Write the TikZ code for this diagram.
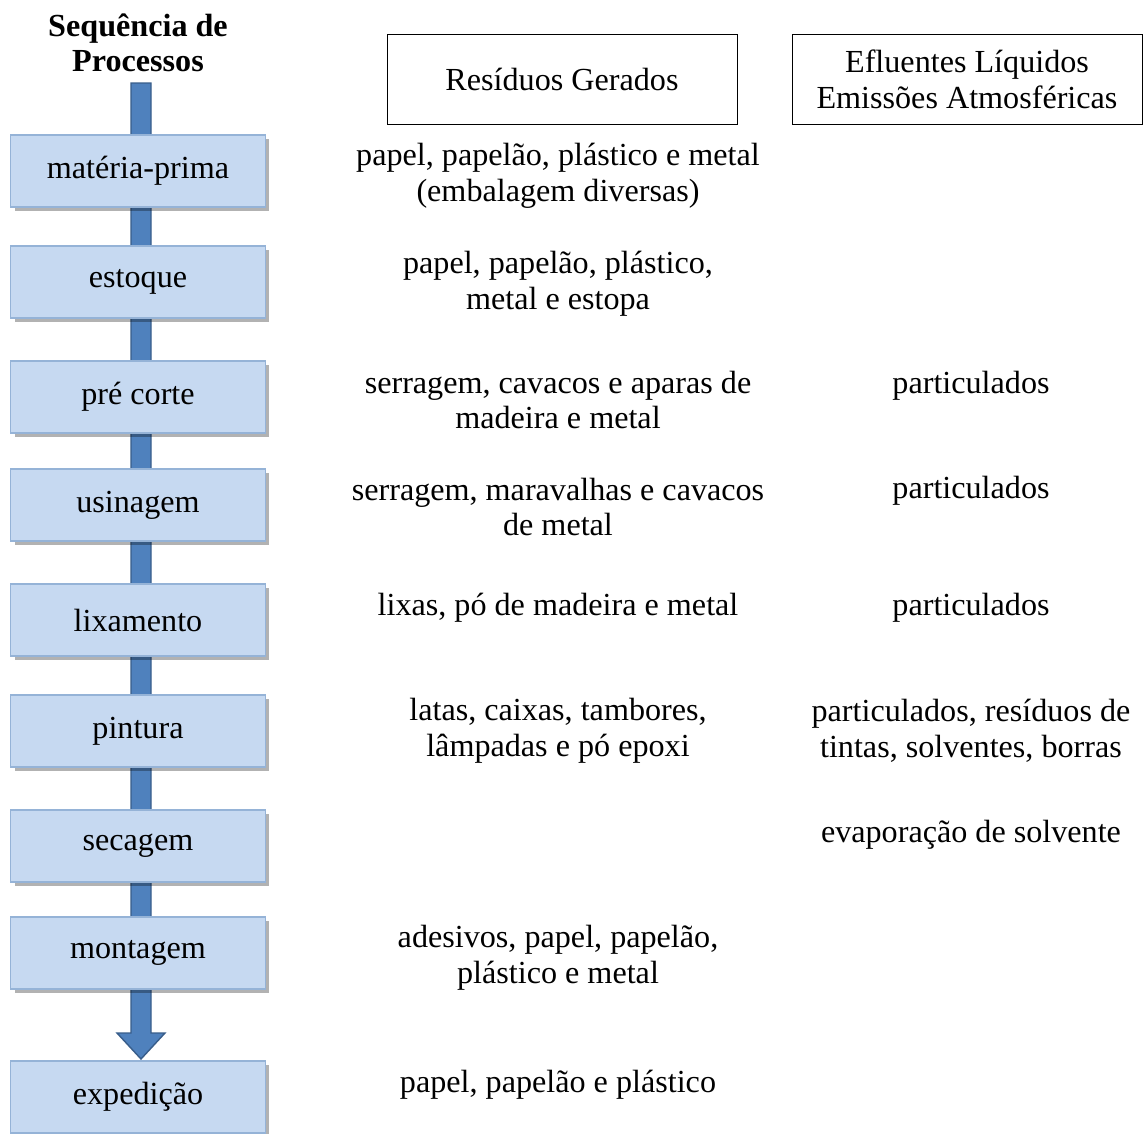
\documentclass[tikz,border=0pt]{standalone}
\usepackage{fontspec}
\setmainfont{Liberation Serif}
\usetikzlibrary{calc,shadows}

\definecolor{boxfill}{RGB}{198,217,241}
\definecolor{boxline}{RGB}{149,179,215}
\definecolor{arrowfill}{RGB}{79,129,189}
\definecolor{arrowline}{RGB}{56,93,138}

\tikzset{
	procbox/.style={draw=boxline, fill=boxfill, line width=0.6pt, minimum width=5.1cm, minimum height=1.44cm,
		drop shadow={shadow xshift=0.08cm, shadow yshift=-0.08cm, fill=black, opacity=0.3}},
	headbox/.style={draw=black, line width=0.5pt, minimum width=7cm, minimum height=1.8cm, align=center},
	txt/.style={align=center}
}

\begin{document}
\begin{tikzpicture}[x=0.02cm, y=-0.02cm, font=\fontsize{18.3}{20.4}\selectfont]
	\useasboundingbox (0,0) rectangle (1143,1133);
	% title
	\node[txt, font=\fontsize{18.3}{20}\selectfont\bfseries] (title) at (138,43) {Sequência de\\Processos};
	% headers
	\node[headbox] (hres) at (562,79) {Resíduos Gerados};
	\node[headbox] (hefl) at (967,79) {Efluentes Líquidos\\Emissões Atmosféricas};
	
	% the arrow behind the boxes
	\coordinate (top) at (141,83);
	\coordinate (neck) at (141,1033);
	\coordinate (tip) at (141,1059);
	\filldraw[fill=arrowfill, draw=arrowline, line width=0.8pt]
		($(top)+(-10,0)$) -- ($(top)+(10,0)$) -- ($(neck)+(10,0)$) -- ($(neck)+(24,0)$) -- (tip)
		-- ($(neck)+(-24,0)$) -- ($(neck)+(-10,0)$) -- cycle;
	
	% process boxes
	\node[procbox] (mat) at (138,171) {matéria-prima};
	\node[procbox] (est) at (138,282) {estoque};
	\node[procbox] (pre) at (138,397) {pré corte};
	\node[procbox] (usi) at (138,505) {usinagem};
	\node[procbox] (lix) at (138,620) {lixamento};
	\node[procbox] (pin) at (138,731) {pintura};
	\node[procbox] (sec) at (138,846) {secagem};
	\node[procbox] (mon) at (138,953) {montagem};
	\node[procbox] (exp) at (138,1097) {expedição};
	
	% residues
	\node[txt] (rmat) at (558,176) {papel, papelão, plástico e metal\\(embalagem diversas)};
	\node[txt] (rest) at (558,284) {papel, papelão, plástico,\\metal e estopa};
	\node[txt] (rpre) at (558,400) {serragem, cavacos e aparas de\\madeira e metal};
	\node[txt] (rusi) at (558,507) {serragem, maravalhas e cavacos\\de metal};
	\node[txt] (rlix) at (558,608) {lixas, pó de madeira e metal};
	\node[txt] (rpin) at (558,731) {latas, caixas, tambores,\\lâmpadas e pó epoxi};
	\node[txt] (rmon) at (558,958) {adesivos, papel, papelão,\\plástico e metal};
	\node[txt] (rexp) at (558,1085) {papel, papelão e plástico};
	
	% effluents and emissions
	\node[txt] (epre) at (971,386) {particulados};
	\node[txt] (eusi) at (971,491) {particulados};
	\node[txt] (elix) at (971,608) {particulados};
	\node[txt] (epin) at (971,731) {particulados, resíduos de\\tintas, solventes, borras};
	\node[txt] (esec) at (971,835) {evaporação de solvente};
\end{tikzpicture}
\end{document}
